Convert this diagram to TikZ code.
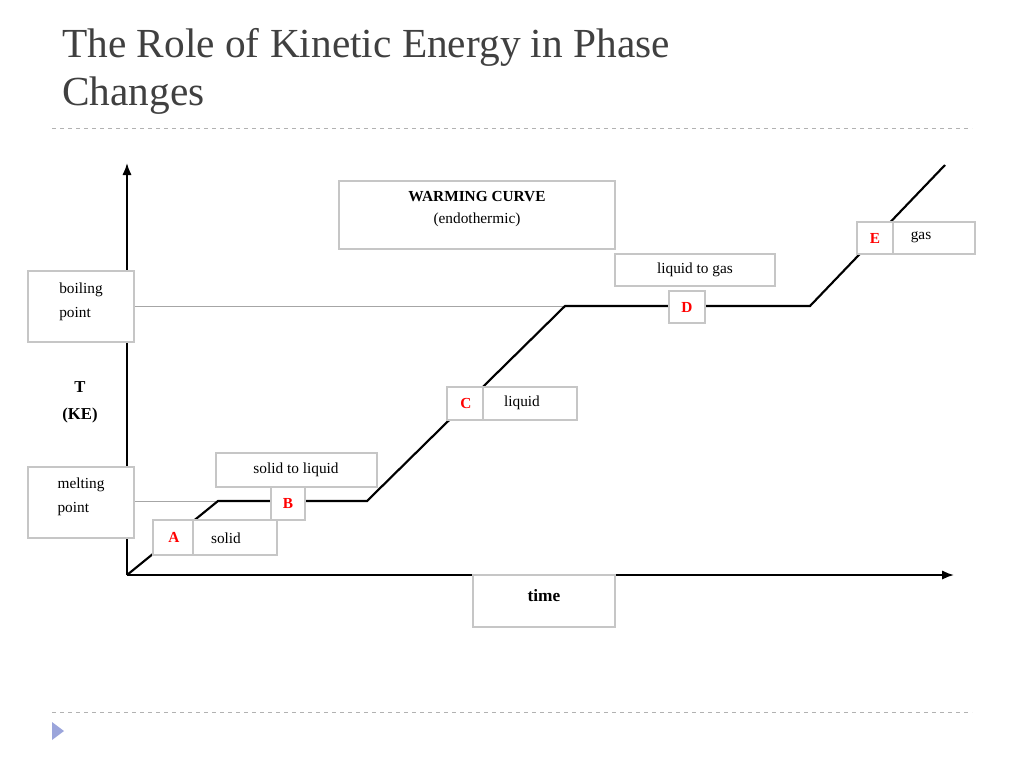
\documentclass[tikz,border=0pt]{standalone}
\usepackage{fontspec}
\setmainfont{Liberation Serif}
\usetikzlibrary{arrows.meta}
\begin{document}
\begin{tikzpicture}[x=0.75pt,y=-0.75pt,
  bx/.style={draw=gray!45,fill=white,line width=0.8pt},
  lbl/.style={font=\fontsize{11.5}{18}\selectfont},
  red/.style={text=red,font=\bfseries\fontsize{11.5}{12}\selectfont},
  curve/.style={line width=1.6pt},
  guide/.style={gray!70,line width=0.5pt}]
\useasboundingbox (0,0) rectangle (1024,768);
\node[anchor=north west,inner sep=0,text=black!75,font=\fontsize{31}{36}\selectfont,align=left] (title) at (62,28) {The Role of Kinetic Energy in Phase\\Changes};
\draw[dashed,gray!60] (52,128) -- (972,128);
\draw[dashed,gray!60] (52,712) -- (972,712);
\fill[cyan!30!blue!40] (52,722) -- (64,731) -- (52,740) -- cycle;
% axes
\coordinate (O) at (127,575);
\coordinate (Y) at (127,163);
\coordinate (X) at (954,575);
\draw[line width=1.4pt,-{Latex[length=9pt,width=7pt]}] (O) -- (Y);
\draw[line width=1.4pt,-{Latex[length=9pt,width=7pt]}] (O) -- (X);
% guides
\draw[guide] (134,306) -- (565,306);
\draw[guide] (134,501) -- (218,501);
% curve
\coordinate (p1) at (218,501);
\coordinate (p2) at (367,501);
\coordinate (p3) at (565,306);
\coordinate (p4) at (810,306);
\coordinate (p5) at (945,165);
\draw[curve] (O) -- (p1) -- (p2) -- (p3) -- (p4) -- (p5);
% boxes
\draw[bx] (28,271) rectangle (134,342);
\node[lbl,align=left] (bp) at (81,302) {boiling\\point};
\draw[bx] (28,467) rectangle (134,538);
\node[lbl,align=left] (mp) at (81,497) {melting\\point};
\node[font=\bfseries\fontsize{12.5}{20}\selectfont,align=center] (T) at (80,402) {T\\(KE)};
\draw[bx] (473,575) rectangle (615,627);
\node[font=\bfseries\fontsize{13}{14}\selectfont] (time) at (544,596) {time};
\draw[bx] (339,181) rectangle (615,249);
\node[align=center,font=\fontsize{11.5}{17}\selectfont] (wc) at (477,209) {\textbf{WARMING CURVE}\\(endothermic)};
\draw[bx] (615,254) rectangle (775,286);
\node[lbl] (lg) at (695,270) {liquid to gas};
\draw[bx] (669,291) rectangle (705,323);
\node[red] (D) at (687,307) {D};
\draw[bx] (857,222) rectangle (975,254);
\draw[bx] (857,222) rectangle (893,254);
\node[red] (E) at (875,238) {E};
\node[lbl] (gas) at (921,237) {gas};
\draw[bx] (483,387) rectangle (577,420);
\draw[bx] (447,387) rectangle (483,420);
\node[red] (C) at (466,403) {C};
\node[lbl] (liq) at (522,403) {liquid};
\draw[bx] (216,453) rectangle (377,487);
\node[lbl] (sl) at (296,470) {solid to liquid};
\draw[bx] (271,487) rectangle (305,520);
\node[red] (B) at (288,503) {B};
\draw[bx] (193,520) rectangle (277,555);
\draw[bx] (153,520) rectangle (193,555);
\node[red] (A) at (174,537) {A};
\node[lbl] (sol) at (226,538) {solid};
\end{tikzpicture}
\end{document}
